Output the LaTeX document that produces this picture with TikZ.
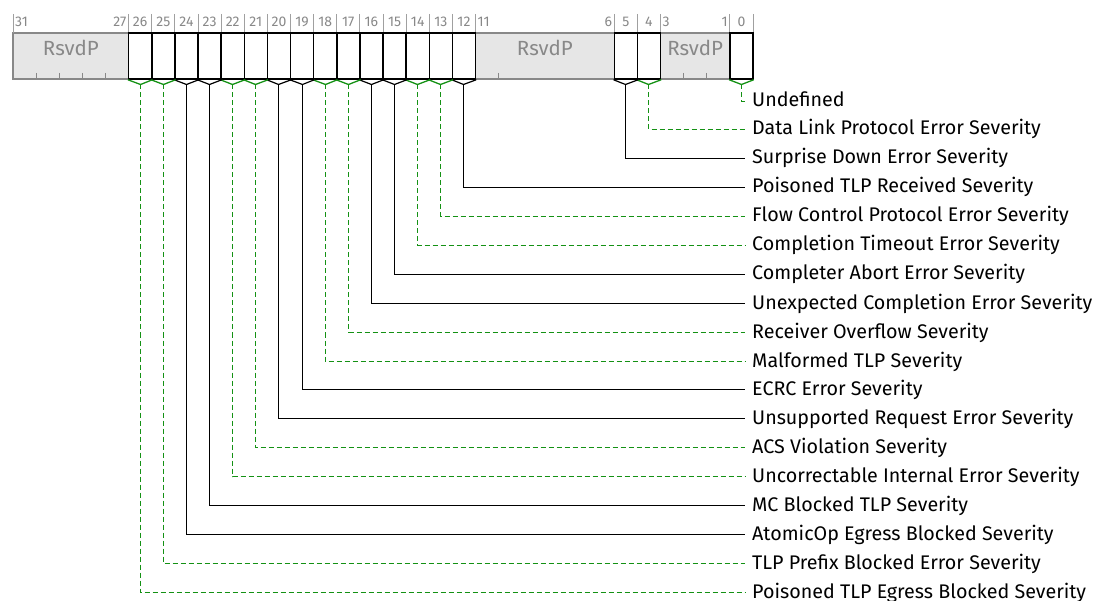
\documentclass[tikz,border=0pt]{standalone}
\usepackage{fontspec}
\setmainfont{Fira Sans}
\usetikzlibrary{positioning}
\definecolor{fieldgreen}{RGB}{20,145,20}
\definecolor{rsvdgray}{RGB}{136,136,136}
\definecolor{rsvdfill}{RGB}{230,230,230}
\tikzset{
  bitbox/.style={draw, line width=1.5pt, fill=white, minimum width=23.125pt, minimum height=46pt, inner sep=0pt},
  rsvdbox/.style={draw=rsvdgray, line width=1.5pt, fill=rsvdfill, minimum height=46pt, inner sep=0pt,
    text=rsvdgray, text height=15pt, text depth=15pt, font=\fontsize{20.5}{24}\selectfont},
  bitnum/.style={text=rsvdgray, font=\fontsize{14}{16}\selectfont, inner xsep=2pt, inner ysep=0pt},
  fieldlabel/.style={anchor=west, inner xsep=7pt, inner ysep=0pt, text height=14pt, text depth=3pt,
    font=\fontsize{19.7}{23}\selectfont},
  solidlink/.style={draw=black, line width=1.2pt},
  dashlink/.style={draw=fieldgreen, line width=1.3pt, dash pattern=on 5pt off 3pt},
}
\begin{document}
\begin{tikzpicture}[x=1pt,y=-1pt]
\useasboundingbox (0,0) rectangle (1094,601);
% reserved fields
\node[rsvdbox, minimum width=115.625pt] (r31) at (70.8125,56) {RsvdP};
\node[rsvdbox, minimum width=138.75pt] (r11) at (544.875,56) {RsvdP};
\node[rsvdbox, minimum width=69.375pt] (r3) at (695.1875,56) {RsvdP};
\foreach \k in {1,...,4,21,...,25,29,30}
  \draw[rsvdgray, line width=1pt] ({13+\k*23.125},73) -- ({13+\k*23.125},79);
% bit number dividers
\foreach \k in {0,5,6,...,20,26,27,28,31,32}
  \draw[rsvdgray!80, line width=1pt] ({13+\k*23.125},14) -- ({13+\k*23.125},33);
\node[bitnum, anchor=west] (n31) at (13,22) {31};
\node[bitnum, anchor=east] (n27) at (128.625,22) {27};
\node[bitnum, anchor=west] (n11) at (475.5,22) {11};
\node[bitnum, anchor=east] (n6) at (614.25,22) {6};
\node[bitnum, anchor=west] (n3) at (660.5,22) {3};
\node[bitnum, anchor=east] (n1) at (729.875,22) {1};
% single bit fields and their descriptions
\foreach \b/\i/\txt/\kind in {
  0/0/Undefined/dashlink,
  4/1/Data Link Protocol Error Severity/dashlink,
  5/2/Surprise Down Error Severity/solidlink,
  12/3/Poisoned TLP Received Severity/solidlink,
  13/4/Flow Control Protocol Error Severity/dashlink,
  14/5/Completion Timeout Error Severity/dashlink,
  15/6/Completer Abort Error Severity/solidlink,
  16/7/Unexpected Completion Error Severity/solidlink,
  17/8/Receiver Overflow Severity/dashlink,
  18/9/Malformed TLP Severity/dashlink,
  19/10/ECRC Error Severity/solidlink,
  20/11/Unsupported Request Error Severity/solidlink,
  21/12/ACS Violation Severity/dashlink,
  22/13/Uncorrectable Internal Error Severity/dashlink,
  23/14/MC Blocked TLP Severity/solidlink,
  24/15/AtomicOp Egress Blocked Severity/solidlink,
  25/16/TLP Prefix Blocked Error Severity/dashlink,
  26/17/Poisoned TLP Egress Blocked Severity/dashlink} {
  \node[bitbox] (b\b) at ({13+(31.5-\b)*23.125},56) {};
  \node[bitnum] (n\b) at ({13+(31.5-\b)*23.125},22) {\b};
  \node[fieldlabel] (l\b) at (745,{floor(101+\i*28.9)+0.5}) {\txt};
  \coordinate (c\b) at ({floor(13+(31.5-\b)*23.125)+0.5},84.5);
  \draw[\kind, solid] (b\b.south west) -- (c\b) -- (b\b.south east);
  \draw[\kind] (c\b) |- (l\b.west);
}
\end{tikzpicture}
\end{document}
